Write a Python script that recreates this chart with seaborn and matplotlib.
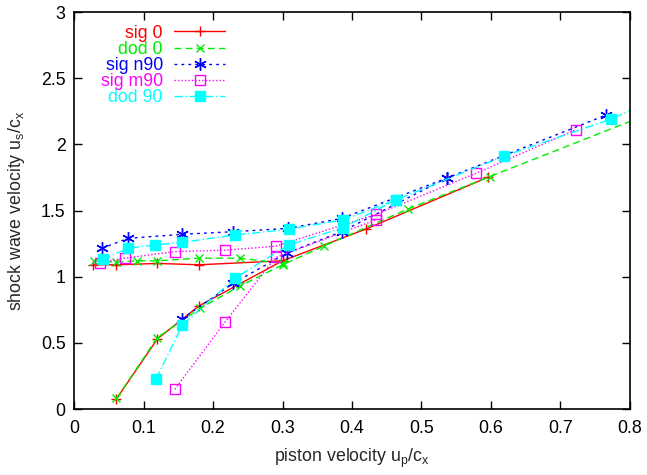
import matplotlib
matplotlib.use("Agg")
import matplotlib.pyplot as plt
import seaborn as sns
import pandas as pd
from matplotlib.lines import Line2D

# ---- data: piston velocity (x) vs shock wave velocity (y), two branches per run ----
labels = ["sig 0", "dod 0", "sig n90", "sig m90", "dod 90"]

sig0_hi_x = [0.028, 0.060, 0.120, 0.180, 0.300]
sig0_hi_y = [1.09, 1.09, 1.10, 1.09, 1.12]
sig0_lo_x = [0.061, 0.120, 0.180, 0.300, 0.420, 0.595]
sig0_lo_y = [0.076, 0.53, 0.78, 1.12, 1.36, 1.75]

dod0_hi_x = [0.029, 0.060, 0.090, 0.120, 0.180, 0.239, 0.300]
dod0_hi_y = [1.12, 1.11, 1.12, 1.12, 1.14, 1.14, 1.10]
dod0_lo_x = [0.061, 0.120, 0.181, 0.239, 0.300, 0.359, 0.480, 0.598, 0.900]
dod0_lo_y = [0.08, 0.54, 0.76, 0.93, 1.09, 1.23, 1.51, 1.756, 2.38]

sign90_hi_x = [0.040, 0.078, 0.155, 0.229, 0.308, 0.385, 0.536, 0.765]
sign90_hi_y = [1.215, 1.29, 1.32, 1.34, 1.365, 1.44, 1.744, 2.22]
sign90_lo_x = [0.155, 0.229, 0.307, 0.385, 0.536]
sign90_lo_y = [0.68, 0.95, 1.18, 1.34, 1.744]

sigm90_hi_x = [0.037, 0.073, 0.146, 0.217, 0.290, 0.4345, 0.578, 0.722]
sigm90_hi_y = [1.106, 1.14, 1.19, 1.20, 1.23, 1.47, 1.78, 2.11]
sigm90_lo_x = [0.145, 0.217, 0.290, 0.4345]
sigm90_lo_y = [0.149, 0.655, 1.145, 1.43]

dod90_hi_x = [0.041, 0.078, 0.117, 0.156, 0.232, 0.309, 0.387, 0.463, 0.618, 0.772, 0.850]
dod90_hi_y = [1.13, 1.215, 1.24, 1.26, 1.315, 1.358, 1.43, 1.58, 1.91, 2.19, 2.37]
dod90_lo_x = [0.118, 0.156, 0.232, 0.309, 0.387, 0.463]
dod90_lo_y = [0.227, 0.635, 0.99, 1.24, 1.37, 1.58]

x_ticks = [0, 0.1, 0.2, 0.3, 0.4, 0.5, 0.6, 0.7, 0.8]
x_tick_labels = ["0", "0.1", "0.2", "0.3", "0.4", "0.5", "0.6", "0.7", "0.8"]
y_ticks = [0, 0.5, 1, 1.5, 2, 2.5, 3]
y_tick_labels = ["0", "0.5", "1", "1.5", "2", "2.5", "3"]

branches = {
    "sig 0": [(sig0_hi_x, sig0_hi_y), (sig0_lo_x, sig0_lo_y)],
    "dod 0": [(dod0_hi_x, dod0_hi_y), (dod0_lo_x, dod0_lo_y)],
    "sig n90": [(sign90_hi_x, sign90_hi_y), (sign90_lo_x, sign90_lo_y)],
    "sig m90": [(sigm90_hi_x, sigm90_hi_y), (sigm90_lo_x, sigm90_lo_y)],
    "dod 90": [(dod90_hi_x, dod90_hi_y), (dod90_lo_x, dod90_lo_y)],
}

styles = {
    "sig 0": dict(color="#ff0000", linestyle="-", marker="+", markersize=7,
                  mfc="#ff0000", mew=1.0),
    "dod 0": dict(color="#00ee00", linestyle=(0, (5, 3)), marker="x", markersize=6,
                  mfc="#00ee00", mew=1.0),
    "sig n90": dict(color="#0000ff", linestyle=(0, (2, 3)), marker=(6, 2, 0), markersize=9,
                    mfc="#0000ff", mew=1.0),
    "sig m90": dict(color="#ff00ff", linestyle=(0, (1, 1.5)), marker="s", markersize=6.5,
                    mfc="none", mew=1.0),
    "dod 90": dict(color="#00ffff", linestyle=(0, (6, 2, 1, 2)), marker="s", markersize=6.5,
                   mfc="#00ffff", mew=1.0),
}

FS = 12.8

sns.set_style("ticks")
plt.rcParams["font.family"] = ["Liberation Sans", "DejaVu Sans"]
plt.rcParams["mathtext.fontset"] = "custom"
plt.rcParams["mathtext.rm"] = "Liberation Sans"
plt.rcParams["mathtext.it"] = "Liberation Sans"

fig = plt.figure(figsize=(6.47, 4.75), dpi=100)
ax = fig.add_axes([0.1144, 0.1389, 0.8593, 0.8358])

for name in labels:
    st = styles[name]
    for bx, by in branches[name]:
        df = pd.DataFrame({"x": bx, "y": by})
        sns.lineplot(data=df, x="x", y="y", ax=ax, sort=False, estimator=None,
                     color=st["color"], linestyle=st["linestyle"], linewidth=1.0,
                     marker=st["marker"], markersize=st["markersize"],
                     markerfacecolor=st["mfc"], markeredgecolor=st["color"],
                     markeredgewidth=st["mew"], legend=False)

ax.set_xlim(0, 0.8)
ax.set_ylim(0, 3)
ax.set_xticks(x_ticks)
ax.set_xticklabels(x_tick_labels)
ax.set_yticks(y_ticks)
ax.set_yticklabels(y_tick_labels)
ax.tick_params(axis="x", pad=8)
ax.tick_params(direction="in", length=6, width=1, top=True, right=True,
               labelsize=FS, colors="black")
ax.tick_params(axis="y", pad=6)
for sp in ax.spines.values():
    sp.set_visible(True)
    sp.set_linewidth(1.2)
    sp.set_color("black")

ax.set_xlabel(r"piston velocity u$_\mathregular{p}$/c$_\mathregular{x}$", fontsize=FS, labelpad=7)
ax.set_ylabel(r"shock wave velocity u$_\mathregular{s}$/c$_\mathregular{x}$", fontsize=FS, labelpad=10)

handles = []
for name in labels:
    st = styles[name]
    handles.append(Line2D([], [], color=st["color"], linestyle=st["linestyle"], linewidth=1.0,
                          marker=st["marker"], markersize=st["markersize"],
                          markerfacecolor=st["mfc"], markeredgecolor=st["color"],
                          markeredgewidth=st["mew"]))
leg = ax.legend(handles, labels, loc="upper right", bbox_to_anchor=(0.2716, 0.968),
                frameon=False, markerfirst=False, labelcolor="linecolor",
                fontsize=FS, handlelength=2.85, handletextpad=0.65,
                labelspacing=-0.05, borderpad=0, borderaxespad=0, numpoints=1)

fig.savefig("out.png", dpi=100)
